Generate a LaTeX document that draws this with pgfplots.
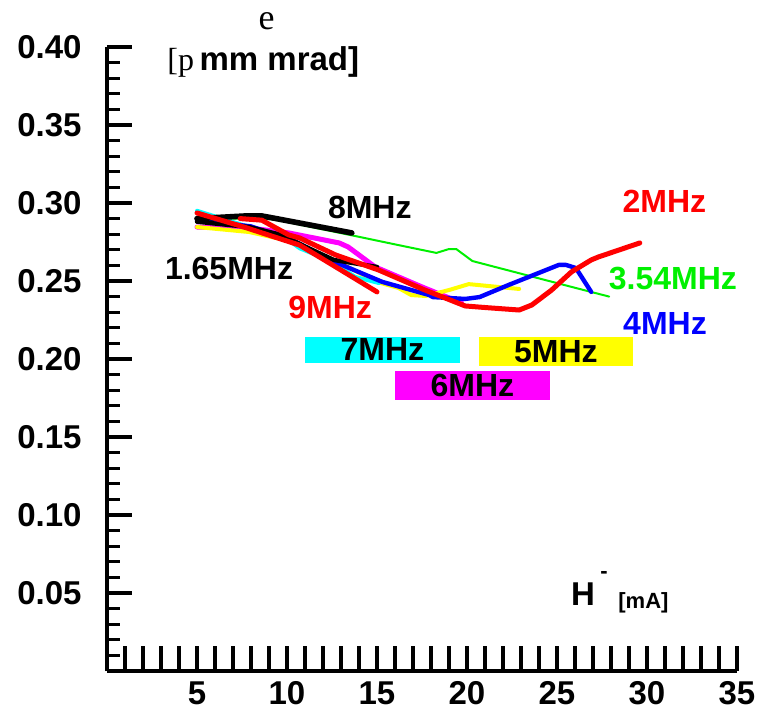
\documentclass[border=0pt]{standalone}
\usepackage{fontspec}
\setmainfont{Liberation Sans}
\newfontfamily\seriffont{Liberation Serif}
\usepackage{pgfplots}
\pgfplotsset{compat=1.18}
\definecolor{lgreen}{HTML}{00F000}
\definecolor{pcyan}{HTML}{00FFFF}
\definecolor{pmagenta}{HTML}{FF00FF}
\definecolor{pyellow}{HTML}{FFFF00}
\definecolor{pred}{HTML}{FF0000}
\definecolor{pblue}{HTML}{0000FF}
\begin{document}
\begin{tikzpicture}
\path[use as bounding box] (0pt,0pt) rectangle (380pt,356.5pt);
\begin{axis}[
  at={(53.5pt,21pt)}, anchor=south west,
  scale only axis, width=315pt, height=312pt,
  xmin=0, xmax=35, ymin=0, ymax=0.40,
  clip=false,
  axis lines=left,
  axis line style={-, line width=2pt},
  tick align=inside,
  xtick={0,1,...,35},
  xticklabels={,,,,,5,,,,,10,,,,,15,,,,,20,,,,,25,,,,,30,,,,,35},
  ytick={0,0.05,0.10,0.15,0.20,0.25,0.30,0.35,0.40},
  yticklabels={,0.05,0.10,0.15,0.20,0.25,0.30,0.35,0.40},
  minor y tick num=4,
  major tick length=12.5pt, minor tick length=6.5pt,
  tick style={line width=1.6pt, black},
  /pgf/number format/assume math mode=true,
  yticklabel style={font=\bfseries\fontsize{16.5}{16.5}\selectfont, anchor=east, inner sep=0pt, xshift=-12.5pt},
  xticklabel style={font=\bfseries\fontsize{16.5}{16.5}\selectfont, anchor=north, inner sep=0pt, yshift=-5pt},
  every axis plot/.append style={line join=round, line cap=round},
]
% 6 MHz
\addplot[pmagenta, line width=2.5pt] coordinates {
  (5,0.2846) (7.9,0.2840) (10.1,0.2808) (12.9,0.2744) (13.4,0.2718)
  (14.9,0.2590) (17.5,0.2462) (19.7,0.2359)
};
% 5 MHz
\addplot[pyellow, line width=2pt] coordinates {
  (5,0.2846) (7.9,0.2814) (10,0.2760) (12.6,0.2635) (15,0.2494)
  (16.2,0.2455) (16.9,0.2410) (17.7,0.2404) (19,0.2442) (20.1,0.2480)
  (22.9,0.2449)
};
% 3.54 MHz
\addplot[lgreen, line width=1pt] coordinates {
  (5,0.2900) (7,0.2900) (9.2,0.2897) (13.8,0.2788) (16.2,0.2730)
  (18.3,0.2680) (19,0.2705) (19.4,0.2705) (20.3,0.2628) (26.05,0.2455)
  (27.9,0.2400)
};
% 7 MHz
\addplot[pcyan, line width=2pt] coordinates {
  (5,0.2950) (7.9,0.2846) (10.3,0.2744) (10.7,0.2710) (12.3,0.2635)
  (13.8,0.2526) (15.1,0.2487)
};
% 4 MHz
\addplot[pblue, line width=2.2pt] coordinates {
  (5,0.2890) (8,0.2850) (10.5,0.2750) (12.7,0.2620) (15.3,0.2494)
  (17.9,0.2410) (18.1,0.2397) (19.9,0.2385) (20.7,0.2397) (22.3,0.2474)
  (25.1,0.2603) (25.5,0.2603) (26.05,0.2583) (26.9,0.2430)
};
% 1.65 MHz
\addplot[black, line width=2.2pt] coordinates {
  (5,0.2880) (7.9,0.2846) (9.7,0.2795) (11.2,0.2710) (12.6,0.2635)
  (15,0.2590)
};
% 8 MHz
\addplot[black, line width=2.8pt] coordinates {
  (5,0.2900) (7.7,0.2917) (8.6,0.2917) (9.4,0.2900) (13.6,0.2808)
};
% 9 MHz
\addplot[pred, line width=2.5pt] coordinates {
  (5,0.2936) (7.5,0.2850) (10.7,0.2730) (12,0.2640) (15,0.2430)
};
% 2 MHz
\addplot[pred, line width=2.5pt] coordinates {
  (7.4,0.2900) (8.6,0.2890) (10.1,0.2795) (10.7,0.2776) (12.7,0.2667)
  (15.1,0.2570) (17.6,0.2445) (19.9,0.2340) (21,0.2330) (22.9,0.2314)
  (23.6,0.2346) (24.7,0.2442) (25.8,0.2558) (26.9,0.2635) (27.3,0.2654)
  (29.6,0.2744)
};
\begin{scope}[every node/.style={font=\bfseries\fontsize{16}{16}\selectfont, inner sep=0pt}]
\node[black] at (axis cs:14.6,0.2971) {8MHz};
\node[black] at (axis cs:6.78,0.2580) {1.65MHz};
\node[pred] at (axis cs:12.4,0.2333) {9MHz};
\node[pred] at (axis cs:30.97,0.3010) {2MHz};
\node[lgreen] at (axis cs:31.44,0.2519) {3.54MHz};
\node[pblue] at (axis cs:31.0,0.2230) {4MHz};
\node[fill=pcyan, minimum width=77.5pt, minimum height=13pt] at (axis cs:15.3,0.2058) {7MHz};
\node[fill=pyellow, minimum width=77pt, minimum height=14.5pt] at (axis cs:24.94,0.2048) {5MHz};
\node[fill=pmagenta, minimum width=77.5pt, minimum height=14.5pt] at (axis cs:20.3,0.1830) {6MHz};
\end{scope}
\end{axis}
\node[anchor=base, inner sep=0pt, font=\seriffont\fontsize{18}{18}\selectfont] at (133.25pt,341.5pt) {e};
\node[anchor=base west, inner sep=0pt] at (83.5pt,321pt) {{\seriffont\fontsize{16}{16}\selectfont [p} {\bfseries\fontsize{16.5}{16.5}\selectfont mm mrad]}};
\node[anchor=base, inner sep=0pt, font=\bfseries\fontsize{16.5}{16.5}\selectfont] at (291.5pt,54pt) {H};
\node[anchor=base, inner sep=0pt, font=\bfseries\fontsize{11}{11}\selectfont] at (302pt,67.5pt) {-};
\node[anchor=base west, inner sep=0pt, font=\bfseries\fontsize{11}{11}\selectfont] at (309pt,52.5pt) {[mA]};
\end{tikzpicture}
\end{document}
